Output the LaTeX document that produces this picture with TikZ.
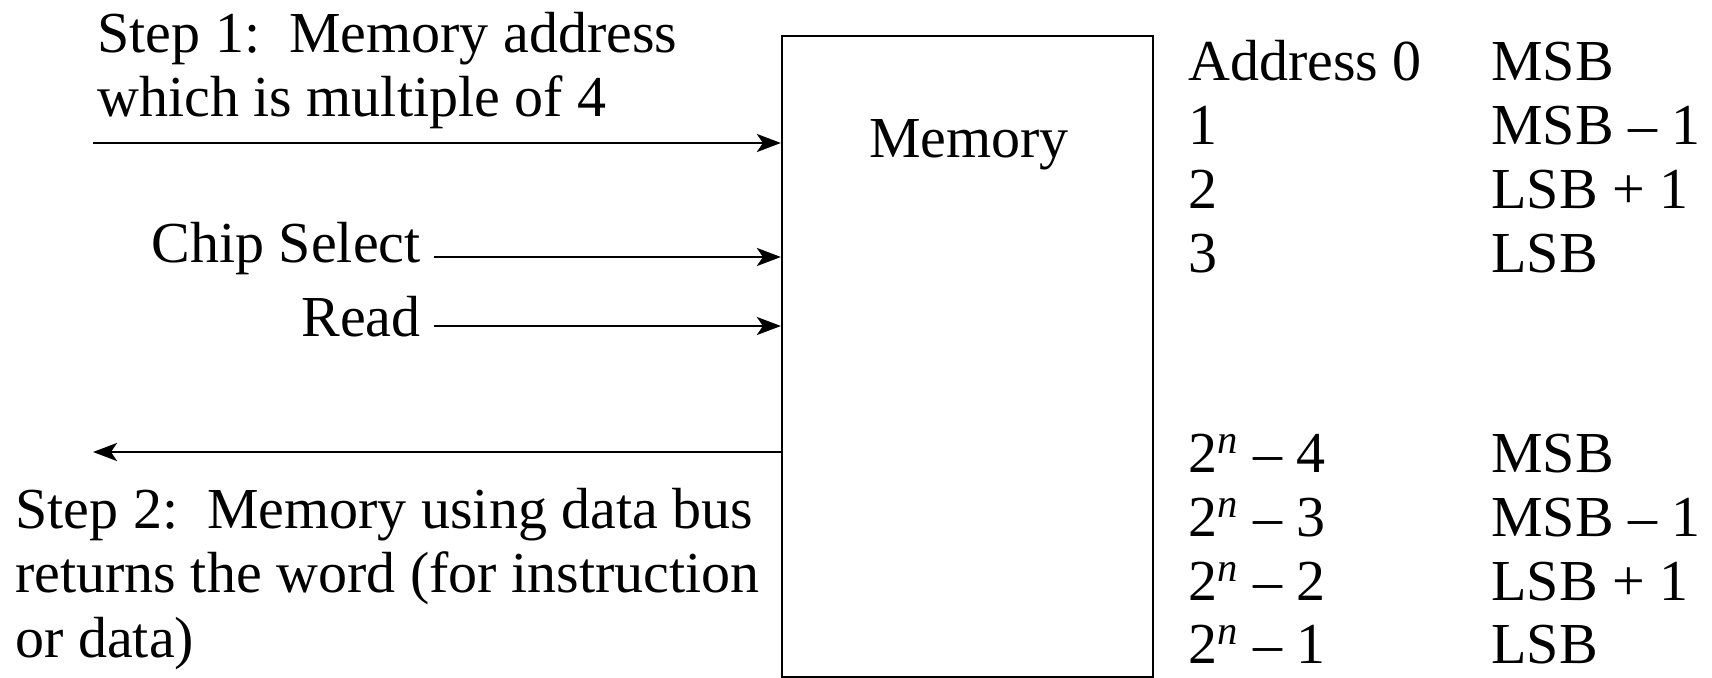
\documentclass[tikz,border=0pt]{standalone}
\usepackage{fontspec}
\setmainfont{Liberation Serif}
\usetikzlibrary{arrows.meta}
\frenchspacing
\begin{document}
\begin{tikzpicture}[x=0.5pt,y=-0.5pt,
  lbl/.style={inner sep=0pt, font=\fontsize{29}{32}\selectfont},
  lw/.style={lbl, anchor=base west},
  le/.style={lbl, anchor=base east},
  arr/.style={line width=1.3pt, -{Stealth[length=12pt,width=9pt,inset=3pt]}},
  box/.style={draw, line width=1.1pt, inner sep=0pt, minimum width=185.5pt, minimum height=320.5pt}]
\useasboundingbox (0,0) rectangle (1712,678);
% memory box
\node[box] (mem) at (967.5,356.5) {};
\node[lbl, anchor=base] (memlbl) at (969,158) {Memory};
% step 1
\node[lw] (s1a) at (97,53) {Step 1:\ \ Memory address};
\node[lw] (s1b) at (97,117) {which is multiple of 4};
\coordinate (a0) at (93,143);
\draw[arr] (a0) -- (a0 -| mem.west);
% chip select / read
\node[le] (cs) at (421,263) {Chip Select};
\node[le] (rd) at (421,337) {Read};
\coordinate (cs0) at (434,257);
\coordinate (rd0) at (434,326);
\draw[arr] (cs0) -- (cs0 -| mem.west);
\draw[arr] (rd0) -- (rd0 -| mem.west);
% step 2
\coordinate (out) at (93,452);
\draw[arr] (out -| mem.west) -- (out);
\node[lw] (s2a) at (15,528) {Step 2:\ \ Memory using data bus};
\node[lw] (s2b) at (15,592) {returns the word (for instruction};
\node[lw] (s2c) at (15,657) {or data)};
% address table
\node[lw] (r0) at (1188,81) {Address 0};
\node[lw] (r1) at (1188,145) {1};
\node[lw] (r2) at (1188,209) {2};
\node[lw] (r3) at (1188,273) {3};
\node[lw] (b0) at (1491,81) {MSB};
\node[lw] (b1) at (1491,145) {MSB – 1};
\node[lw] (b2) at (1491,209) {LSB + 1};
\node[lw] (b3) at (1491,273) {LSB};
\node[lw] (r4) at (1188,472) {2\textsuperscript{\textit{n}} – 4};
\node[lw] (r5) at (1188,536) {2\textsuperscript{\textit{n}} – 3};
\node[lw] (r6) at (1188,600) {2\textsuperscript{\textit{n}} – 2};
\node[lw] (r7) at (1188,663) {2\textsuperscript{\textit{n}} – 1};
\node[lw] (b4) at (1491,472) {MSB};
\node[lw] (b5) at (1491,536) {MSB – 1};
\node[lw] (b6) at (1491,600) {LSB + 1};
\node[lw] (b7) at (1491,663) {LSB};
\end{tikzpicture}
\end{document}
